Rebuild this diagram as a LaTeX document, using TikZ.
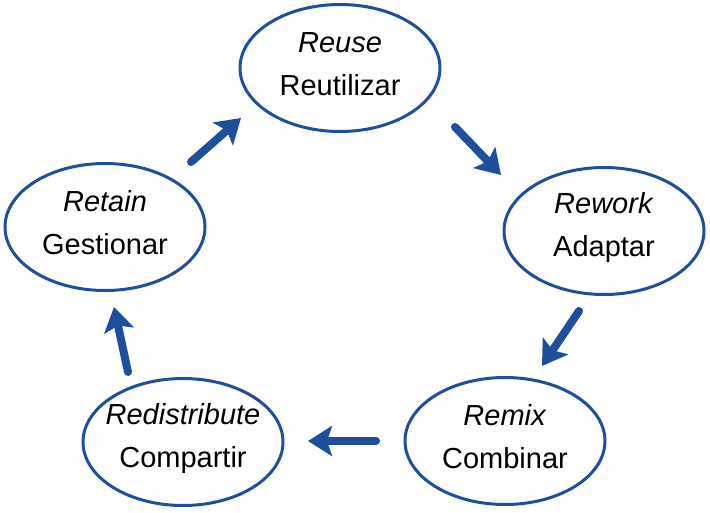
\documentclass[tikz,border=0pt]{standalone}
\usepackage{fontspec}
\setmainfont{Liberation Sans}
\usetikzlibrary{arrows.meta,shapes.geometric}
\definecolor{oerblue}{HTML}{1F4E9C}
\begin{document}
\begin{tikzpicture}[x=1pt,y=-1pt,
  cyc/.style={draw=oerblue,line width=3pt,ellipse,minimum width=200pt,minimum height=127pt,inner sep=0pt},
  cyctext/.style={align=center,inner sep=0pt,font=\fontsize{29}{43}\selectfont},
  flow/.style={draw=oerblue,line width=8pt,line cap=round,-{Stealth[length=24pt,width=30pt,inset=5pt]}}]
\useasboundingbox (0,0) rectangle (710,512);
\node[cyc] (reuse) at (340,68) {};
\node[cyc] (rework) at (604,231) {};
\node[cyc] (remix) at (505,441) {};
\node[cyc] (redis) at (183,442) {};
\node[cyc] (retain) at (105,227) {};
\node[cyctext] (reuseT) at ([yshift=4pt]reuse.center) {\textit{Reuse}\\Reutilizar};
\node[cyctext] (reworkT) at ([yshift=4pt]rework.center) {\textit{Rework}\\Adaptar};
\node[cyctext] (remixT) at ([yshift=4pt]remix.center) {\textit{Remix}\\Combinar};
\node[cyctext] (redisT) at ([yshift=4pt]redis.center) {\textit{Redistribute}\\Compartir};
\node[cyctext] (retainT) at ([yshift=4pt]retain.center) {\textit{Retain}\\Gestionar};
\coordinate (a1s) at (191,162); \coordinate (a1e) at (241,118);
\coordinate (a2s) at (455,127); \coordinate (a2e) at (501,175);
\coordinate (a3s) at (579,311); \coordinate (a3e) at (542,366);
\coordinate (a4s) at (376,441); \coordinate (a4e) at (308,441);
\coordinate (a5s) at (128,372); \coordinate (a5e) at (114,307);
\draw[flow] (a1s) -- (a1e);
\draw[flow] (a2s) -- (a2e);
\draw[flow] (a3s) -- (a3e);
\draw[flow] (a4s) -- (a4e);
\draw[flow] (a5s) -- (a5e);
\end{tikzpicture}
\end{document}
